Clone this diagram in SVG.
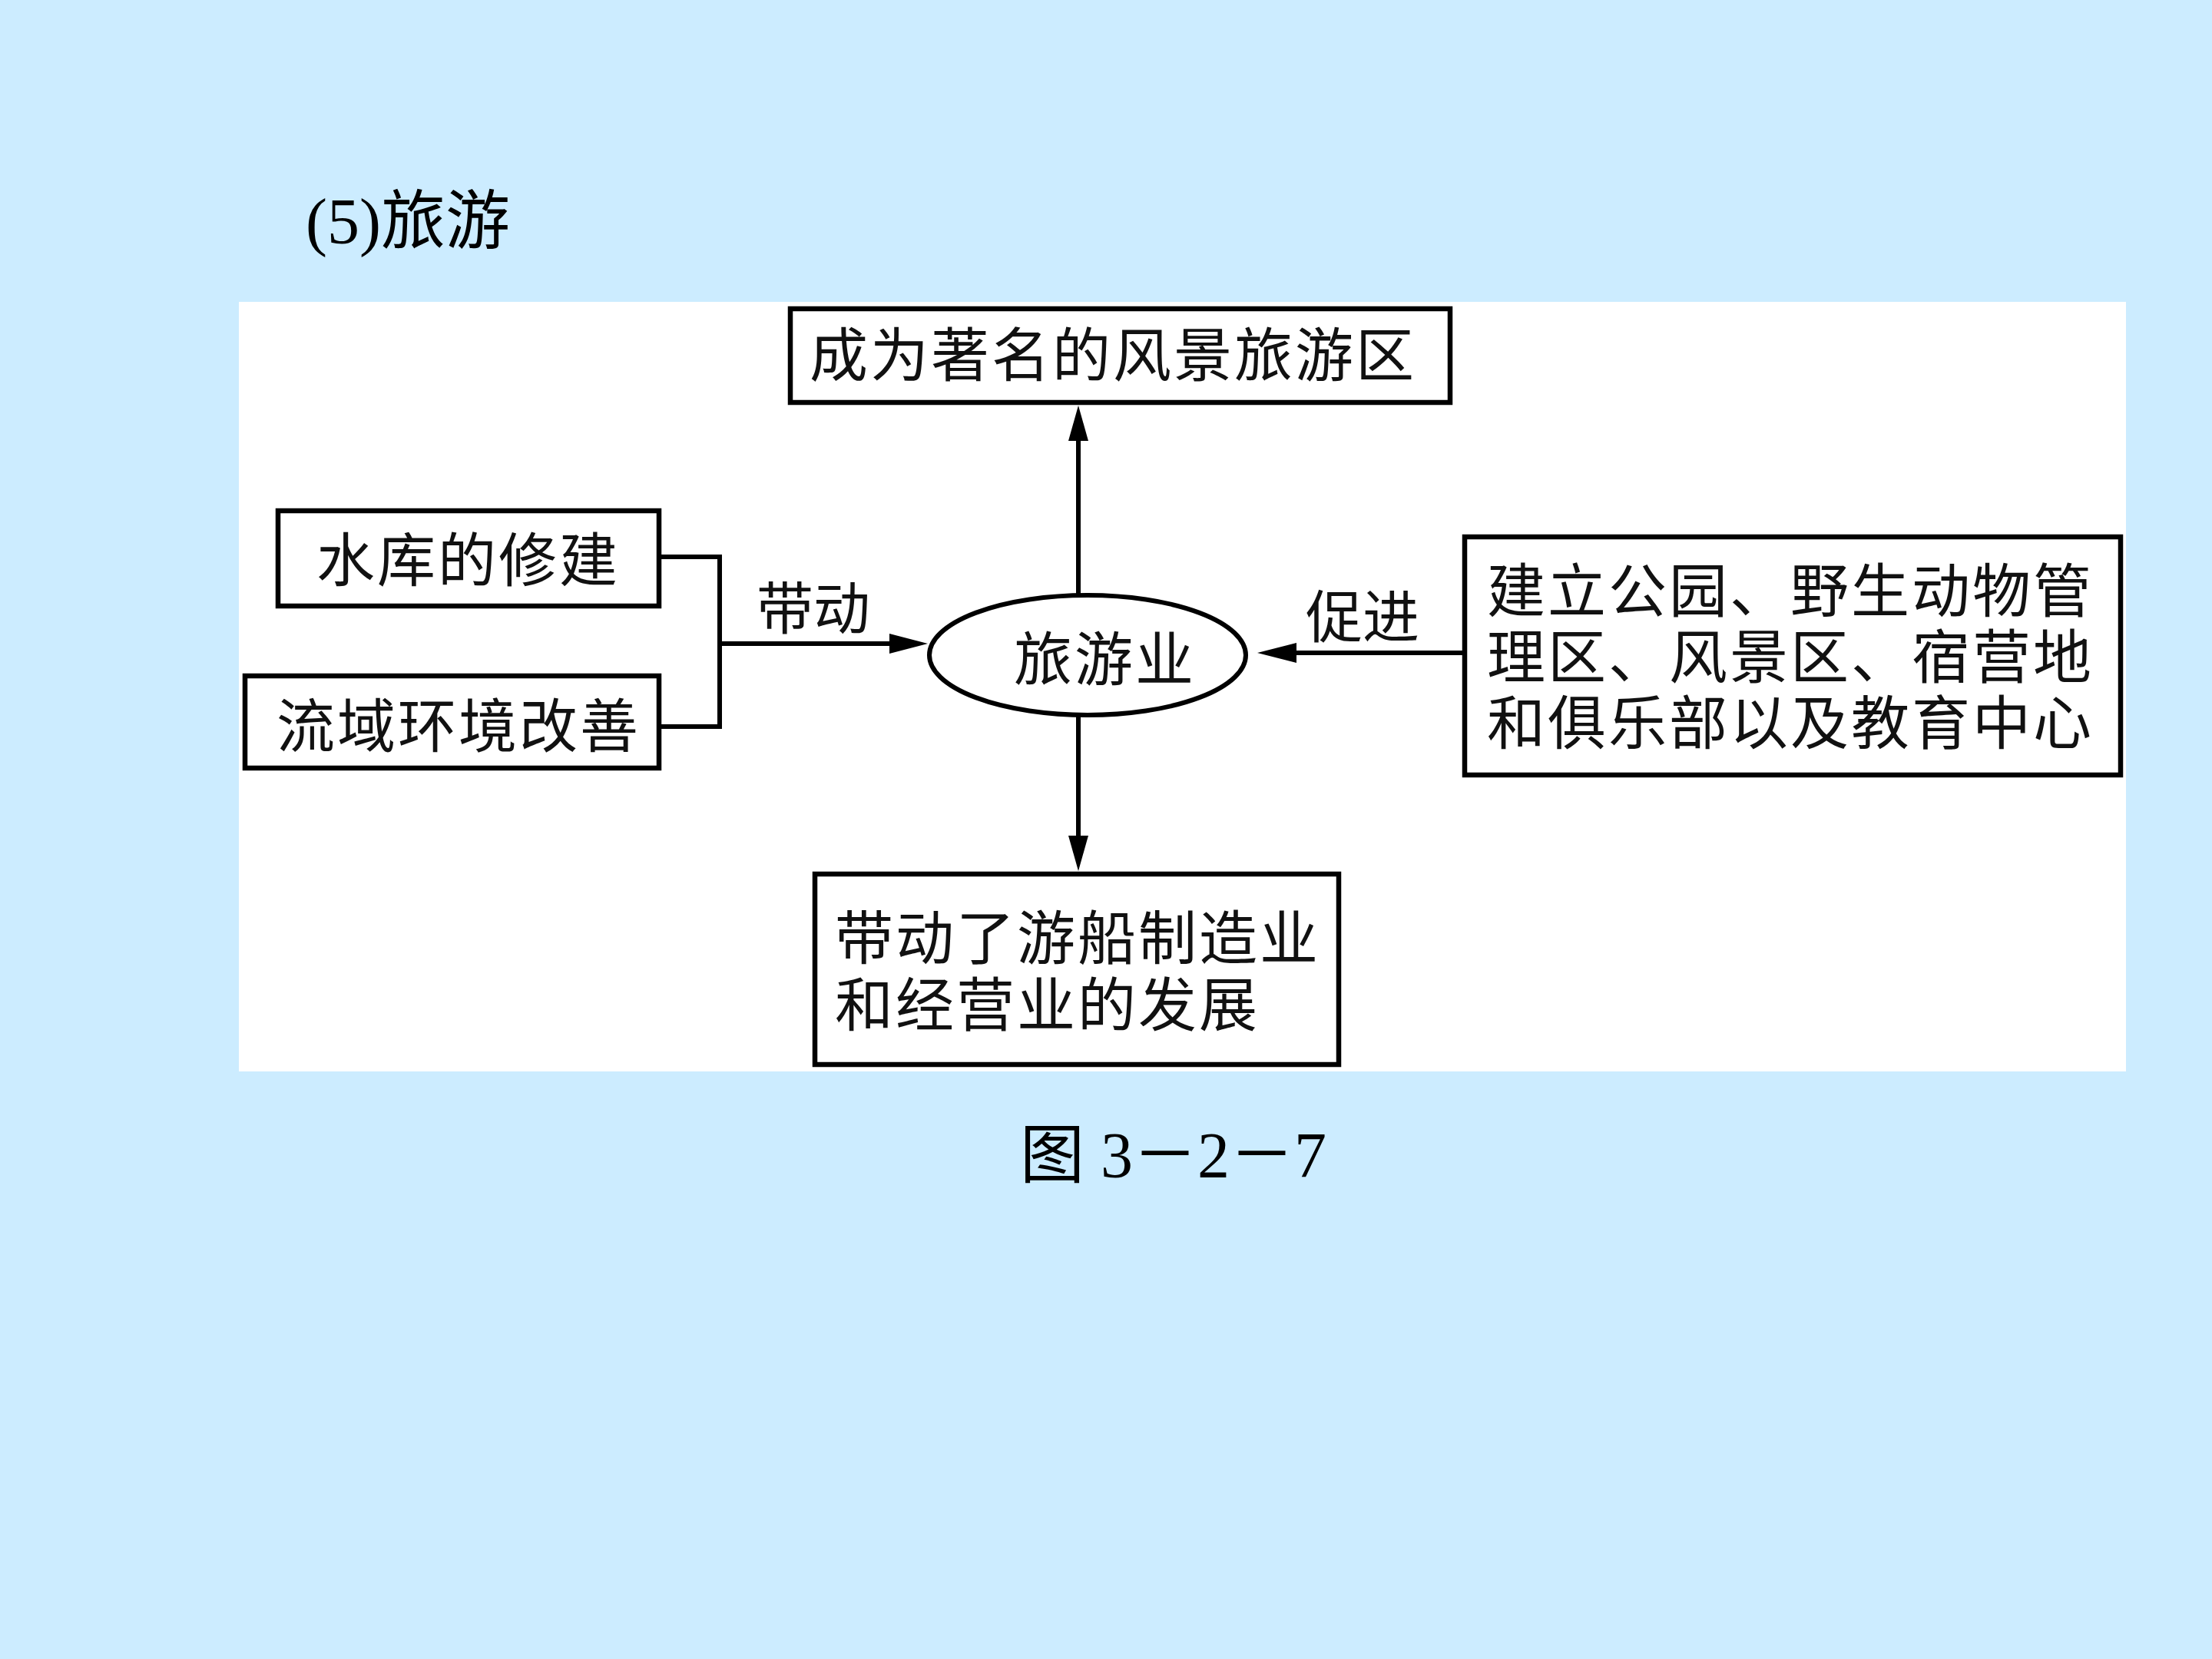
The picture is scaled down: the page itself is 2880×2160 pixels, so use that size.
<svg xmlns="http://www.w3.org/2000/svg" width="2880" height="2160" viewBox="0 0 2880 2160">
  <style>
    .box { fill: #ffffff; stroke: #000000; stroke-width: 6.5; }
    .ell { fill: #ffffff; stroke: #000000; stroke-width: 6; }
    .ln { fill: none; stroke: #000000; stroke-width: 6; }
    .t { font-family: "Noto Sans CJK SC", "Liberation Sans", sans-serif; font-size: 76px; fill: #111111; letter-spacing: 3px; }
    .lbl { font-family: "Noto Sans CJK SC", "Liberation Sans", sans-serif; font-size: 74px; fill: #111111; }
    .serif { font-family: "Liberation Serif", "Noto Sans CJK SC", serif; font-size: 84px; fill: #000000; }
  </style>
  <rect x="0" y="0" width="2880" height="2160" fill="#CCECFF"/>
  <text class="serif" x="398" y="317">(5)旅游</text>
  <rect x="311" y="393" width="2457" height="1002" fill="#ffffff"/>

  <g id="connectors">
    <line class="ln" x1="1404" y1="776" x2="1404" y2="570"/>
    <polygon points="1404,528 1391,574 1417,574" fill="#000"/>
    <line class="ln" x1="1404" y1="930" x2="1404" y2="1092"/>
    <polygon points="1404,1134 1391,1088 1417,1088" fill="#000"/>
    <polyline class="ln" points="858,725 937,725 937,946 858,946"/>
    <line class="ln" x1="937" y1="838" x2="1162" y2="838"/>
    <polygon points="1208,838 1158,825 1158,851" fill="#000"/>
    <line class="ln" x1="1905" y1="850" x2="1684" y2="850"/>
    <polygon points="1637,850 1688,837 1688,863" fill="#000"/>
    <text class="lbl" x="985" y="819">带动</text>
    <text class="lbl" x="1700" y="830">促进</text>
  </g>

  <g id="top">
    <rect class="box" x="1029" y="402" width="859" height="122"/>
    <text class="t" x="1054" y="490">成为著名的风景旅游区</text>
  </g>
  <g id="reservoir">
    <rect class="box" x="362" y="665" width="496" height="124"/>
    <text class="t" x="412" y="757">水库的修建</text>
  </g>
  <g id="basin">
    <rect class="box" x="319" y="880" width="539" height="120"/>
    <text class="t" x="360" y="973">流域环境改善</text>
  </g>
  <g id="tourism">
    <ellipse class="ell" cx="1416" cy="853" rx="206" ry="78"/>
    <text class="t" x="1320" y="886">旅游业</text>
  </g>
  <g id="parks">
    <rect class="box" x="1907" y="699" width="854" height="310"/>
    <text class="t" x="1936" y="797">建立公园、野生动物管</text>
    <text class="t" x="1936" y="883">理区、风景区、宿营地</text>
    <text class="t" x="1936" y="969">和俱乐部以及教育中心</text>
  </g>
  <g id="boats">
    <rect class="box" x="1061" y="1138" width="682" height="248"/>
    <text class="t" x="1087" y="1249">带动了游船制造业</text>
    <text class="t" x="1087" y="1336">和经营业的发展</text>
  </g>

  <text class="serif" x="1328" y="1533">图 3－2－7</text>
</svg>
